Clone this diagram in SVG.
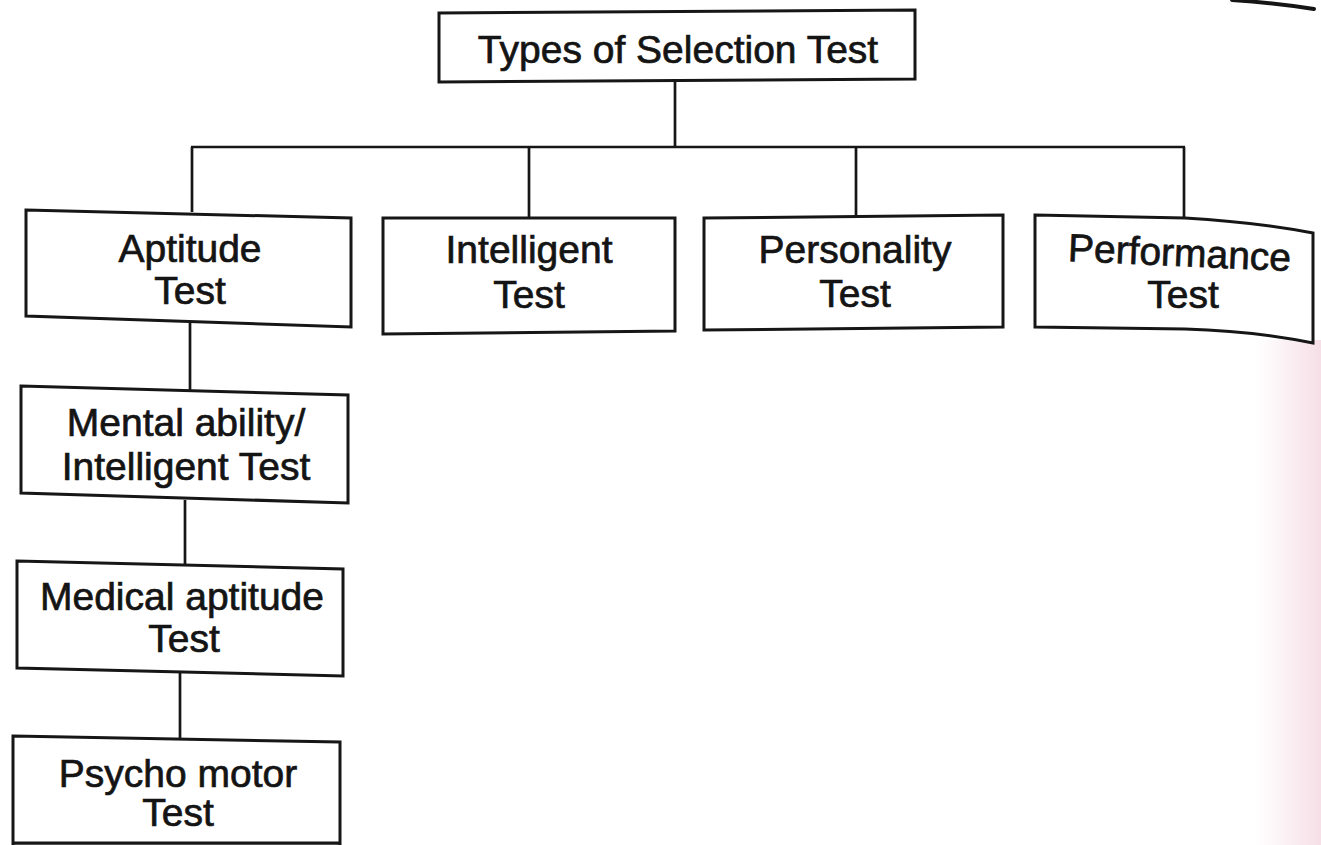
<svg xmlns="http://www.w3.org/2000/svg" width="1321" height="845" viewBox="0 0 1321 845">
  <defs>
    <linearGradient id="edgeTint" x1="0" y1="0" x2="1" y2="0">
      <stop offset="0" stop-color="#f6dde6" stop-opacity="0"/>
      <stop offset="1" stop-color="#f3d6e0" stop-opacity="0.8"/>
    </linearGradient>
    <style>
      .box { fill: #ffffff; stroke: #161616; stroke-width: 3; stroke-linejoin: miter; }
      .wire { fill: none; stroke: #161616; stroke-width: 2.7; }
      .label { font-family: "Liberation Sans", Arial, Helvetica, sans-serif; font-size: 39px; fill: #141414; stroke: #141414; stroke-width: 0.7; text-anchor: middle; }
    </style>
  </defs>

  <!-- paper -->
  <rect x="0" y="0" width="1321" height="845" fill="#ffffff"/>
  <rect x="1255" y="340" width="66" height="505" fill="url(#edgeTint)"/>
  <!-- binding edge stroke, top right -->
  <path d="M1232,0 Q1275,3 1314,9" fill="none" stroke="#151515" stroke-width="4" stroke-linecap="round"/>

  <!-- connectors -->
  <g id="connectors" class="wire">
    <line x1="675" y1="81" x2="675" y2="147"/>
    <line x1="191" y1="147" x2="1185" y2="147"/>
    <line x1="192" y1="147" x2="192" y2="212"/>
    <line x1="529" y1="147" x2="529" y2="218"/>
    <line x1="856" y1="147" x2="856" y2="216"/>
    <line x1="1184" y1="147" x2="1184" y2="218"/>
    <line x1="190" y1="323" x2="190" y2="391"/>
    <line x1="185" y1="500" x2="185" y2="566"/>
    <line x1="180" y1="673" x2="180" y2="739"/>
  </g>

  <g id="node-root">
    <path class="box" d="M439,13 L915,10 L915,79 L439,82 Z"/>
    <text class="label" x="678" y="63">Types of Selection Test</text>
  </g>

  <g id="node-aptitude">
    <path class="box" d="M26,210 L351,218 L351,327 L26,316 Z"/>
    <text class="label" x="190" y="262">Aptitude</text>
    <text class="label" x="190" y="304">Test</text>
  </g>

  <g id="node-intelligent">
    <path class="box" d="M383,218 L675,218 L675,331 L383,334 Z"/>
    <text class="label" x="529" y="263">Intelligent</text>
    <text class="label" x="529" y="308">Test</text>
  </g>

  <g id="node-personality">
    <path class="box" d="M704,218 L1003,215 L1003,327 L704,330 Z"/>
    <text class="label" x="855" y="263">Personality</text>
    <text class="label" x="855" y="307">Test</text>
  </g>

  <g id="node-performance">
    <path class="box" d="M1035,215 L1185,218 Q1255,222 1313,233 L1313,343 Q1255,331 1185,329 L1035,327 Z"/>
    <text class="label" x="1179" y="266" transform="rotate(2.6 1179 266)">Performance</text>
    <text class="label" x="1183" y="308">Test</text>
  </g>

  <g id="node-mental">
    <path class="box" d="M21,386 L348,395 L348,503 L21,493 Z"/>
    <text class="label" x="186" y="436">Mental ability/</text>
    <text class="label" x="186" y="480">Intelligent Test</text>
  </g>

  <g id="node-medical">
    <path class="box" d="M17,561 L343,569 L343,676 L17,668 Z"/>
    <text class="label" x="182" y="610">Medical aptitude</text>
    <text class="label" x="184" y="652">Test</text>
  </g>

  <g id="node-psycho">
    <path class="box" d="M13,736 L340,742 L340,846 L13,846 Z"/>
    <line x1="13" y1="843" x2="340" y2="843" stroke="#161616" stroke-width="3"/>
    <text class="label" x="178" y="787">Psycho motor</text>
    <text class="label" x="178" y="826">Test</text>
  </g>
</svg>
